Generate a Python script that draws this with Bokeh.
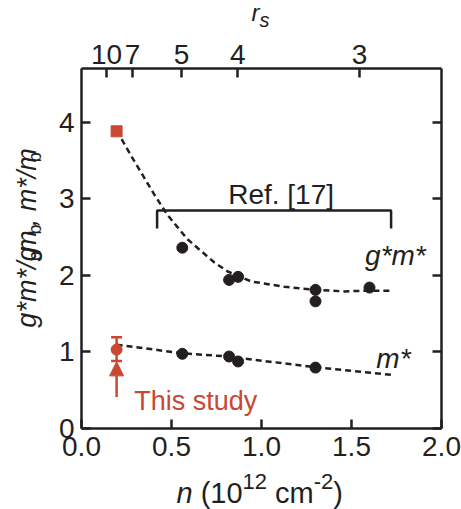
import math
from bokeh.plotting import figure
from bokeh.layouts import column, row
from bokeh.core.properties import value
from bokeh.models import (Range1d, LinearAxis, FixedTicker, CustomJSTickFormatter,
                          PrintfTickFormatter, Label, Whisker, TeeHead, Arrow,
                          NormalHead, ColumnDataSource)
from bokeh.embed import file_html
from bokeh.resources import INLINE

# ---------------- data ----------------
gm_n = [0.56, 0.82, 0.87, 1.30, 1.30, 1.60]
gm_val = [2.36, 1.94, 1.98, 1.81, 1.66, 1.84]
m_n = [0.56, 0.82, 0.87, 1.30]
m_val = [0.975, 0.94, 0.875, 0.795]
study_n = [0.195]
study_gm = [3.88]
study_m = [1.03]
study_m_lo = [0.88]
study_m_hi = [1.19]
fit_gm_n = [0.195, 0.291, 0.403, 0.477, 0.589, 0.737, 0.812, 0.942, 1.127, 1.30, 1.461, 1.60, 1.73]
fit_gm_val = [3.89, 3.50, 3.06, 2.79, 2.47, 2.17, 2.05, 1.92, 1.85, 1.81, 1.79, 1.80, 1.80]
fit_m_n = [0.195, 0.55, 0.81, 1.30, 1.72]
fit_m_val = [1.095, 0.985, 0.94, 0.80, 0.70]
rs_ticks = [10, 7, 5, 4, 3]
rs_const = 13.9          # n (10^12 cm^-2) * rs^2
x_ticks = [0.0, 0.5, 1.0, 1.5, 2.0]
y_ticks = [0, 1, 2, 3, 4]
ref_n_range = [0.42, 1.72]
ref_bracket_y = [2.61, 2.845]
arrow_y = [0.41, 0.87]

# ---------------- layout ----------------
TOTAL_W, TOTAL_H = 461, 509
TOP_H = 31            # strip with the r_s label
LEFT_W = 46           # strip with the y label
MAIN_W, MAIN_H = TOTAL_W - LEFT_W, 439
BOT_H = TOTAL_H - TOP_H - MAIN_H
BL, BR, BT, BB = 35, 20, 37, 42
XMAX, YMAX = 2.0, 4.7
SY = (MAIN_H - BT - BB) / YMAX
MID = 0.3465          # (ascent - descent) / 2 of Liberation Sans, in em

K = "#231F20"
RED = "#C84834"
FONT = "Liberation Sans"

p = figure(width=MAIN_W, height=MAIN_H, x_range=Range1d(0, XMAX), y_range=Range1d(0, YMAX),
           output_backend="svg", toolbar_location=None,
           min_border_left=BL, min_border_right=BR, min_border_top=BT, min_border_bottom=BB)
p.xgrid.visible = False
p.ygrid.visible = False
p.outline_line_color = None
p.background_fill_color = "white"
p.border_fill_color = "white"


def style(ax, size="28px"):
    ax.axis_line_width = 2.5
    ax.axis_line_color = K
    ax.major_tick_line_width = 2.5
    ax.major_tick_line_color = K
    ax.major_tick_in = 9
    ax.major_tick_out = 0
    ax.minor_tick_line_color = None
    ax.major_label_text_font = FONT
    ax.major_label_text_font_size = size
    ax.major_label_text_color = K


xa = p.xaxis[0]
xa.ticker = FixedTicker(ticks=x_ticks)
xa.formatter = PrintfTickFormatter(format="%.1f")
style(xa)
xa.major_label_standoff = 8

ya = p.yaxis[0]
ya.ticker = FixedTicker(ticks=y_ticks)
style(ya)
ya.major_label_standoff = 7

top = LinearAxis(ticker=FixedTicker(ticks=[rs_const / r ** 2 for r in rs_ticks]),
                 formatter=CustomJSTickFormatter(
                     code="return Math.round(Math.sqrt(%s / tick)).toString();" % rs_const))
style(top)
top.major_label_standoff = 5
p.add_layout(top, "above")

right = LinearAxis(ticker=FixedTicker(ticks=y_ticks),
                   formatter=CustomJSTickFormatter(code="return '';"))
style(right)
p.add_layout(right, "right")

# ---------------- fits ----------------
p.line(fit_gm_n, fit_gm_val, line_color=K, line_width=2.5, line_dash="6 4")
p.line(fit_m_n, fit_m_val, line_color=K, line_width=2.5, line_dash="6 4")

# ---------------- Ref. [17] points ----------------
p.scatter(gm_n, gm_val, marker="circle", size=11, fill_color=K, line_color=K)
p.scatter(m_n, m_val, marker="circle", size=11, fill_color=K, line_color=K)

# ---------------- this study ----------------
src = ColumnDataSource(dict(x=study_n, lo=study_m_lo, hi=study_m_hi))
p.add_layout(Whisker(base="x", lower="lo", upper="hi", source=src, dimension="height",
                     line_color=RED, line_width=2.5,
                     upper_head=TeeHead(size=11, line_color=RED, line_width=2.5),
                     lower_head=TeeHead(size=11, line_color=RED, line_width=2.5)))
p.scatter(study_n, study_gm, marker="square", size=11, fill_color=RED, line_color=RED)
p.scatter(study_n, study_m, marker="circle", size=11, fill_color=RED, line_color=RED)
p.add_layout(Arrow(end=NormalHead(size=14, fill_color=RED, line_color=RED, line_width=1),
                   x_start=study_n[0], y_start=arrow_y[0], x_end=study_n[0], y_end=arrow_y[1],
                   line_color=RED, line_width=2.5))

# bracket of Ref. [17]
p.line([ref_n_range[0], ref_n_range[0], ref_n_range[1], ref_n_range[1]],
       [ref_bracket_y[0], ref_bracket_y[1], ref_bracket_y[1], ref_bracket_y[0]],
       line_color=K, line_width=2.5)


def lab(x, y_base, text, size, italic=False, color=K, align="left"):
    # y_base is the text baseline in data units; anchor the middle of the text box
    p.add_layout(Label(x=x, y=y_base + MID * size / SY, text=text, text_font=FONT,
                       text_font_size="%dpx" % size,
                       text_font_style="italic" if italic else "normal", text_color=color,
                       text_align=align, text_baseline="middle"))


lab(1.109, 2.933, "Ref. [17]", 28, align="center")
lab(1.744, 2.128, "g*m*", 28, italic=True, align="center")
lab(1.733, 0.79, "m*", 28, italic=True, align="center")
lab(0.635, 0.235, "This study", 27, color=RED, align="center")


# ---------------- text strips (axis titles with sub/superscripts) ----------------
def text_fig(w, h):
    f = figure(width=w, height=h, x_range=Range1d(0, w), y_range=Range1d(0, h),
               output_backend="svg", toolbar_location=None, min_border=0,
               x_axis_location=None, y_axis_location=None)
    f.xgrid.visible = False
    f.ygrid.visible = False
    f.outline_line_color = None
    f.background_fill_color = "white"
    f.border_fill_color = "white"
    return f


def put(f, x, y, t, size, italic=False, rotated=False):
    # (x, y): start of the baseline, in the strip's pixel-like data units
    if rotated:
        x = x - MID * size
        angle = math.pi / 2
    else:
        y = y + MID * size
        angle = 0.0
    f.text(x=[x], y=[y], text=[t], text_font=value(FONT), text_font_size=value("%dpx" % size),
           text_font_style=value("italic" if italic else "normal"), text_color=K,
           text_align="left", text_baseline="middle", angle=angle)


# Arial advance widths (em)
AW = {"g": .556, "*": .389, "m": .833, "/": .278, "b": .556, ",": .278, " ": .278,
      "n": .556, "(": .333, ")": .333, "1": .556, "0": .556, "2": .556, "-": .333,
      "c": .5, "r": .333, "s": .5}


def tw(t, size):
    return sum(AW[c] for c in t) * size


# r_s (top strip)
tf = text_fig(TOTAL_W, TOP_H)
put(tf, 251, TOP_H - 20.5, "r", 24, italic=True)
put(tf, 251 + tw("r", 24), TOP_H - 26.3, "s", 20, italic=True)

# y label (left strip), rotated
lf = text_fig(LEFT_W, MAIN_H)
F, S = 27, 18
base_x = 36
cur = MAIN_H - (347 - TOP_H)
for t, sub in [("g*m*/g", False), ("b", True), ("m", False), ("b", True), (", m*/m", False), ("b", True)]:
    if sub:
        put(lf, base_x + 5, cur, t, S, rotated=True)
        cur += tw(t, S)
    else:
        put(lf, base_x, cur, t, F, italic=True, rotated=True)
        cur += tw(t, F)

# x label (bottom strip)
bf = text_fig(TOTAL_W, BOT_H)
F, S = 29, 22
base_y = TOTAL_H - 503
sup = 14
cur = 176
for t, kind, gap in [("n", "i", 0.0), ("(10", "n", tw(" ", 29)), ("12", "s", 0.0),
                     ("cm", "n", tw(" ", 29)), ("-2", "s", 0.0), (")", "n", 0.0)]:
    cur += gap
    if kind == "s":
        put(bf, cur, base_y + sup, t, S)
        cur += tw(t, S)
    else:
        put(bf, cur, base_y, t, F, italic=(kind == "i"))
        cur += tw(t, F)

layout = column(tf, row(lf, p), bf)
open("out.html", "w").write(file_html(layout, INLINE))
